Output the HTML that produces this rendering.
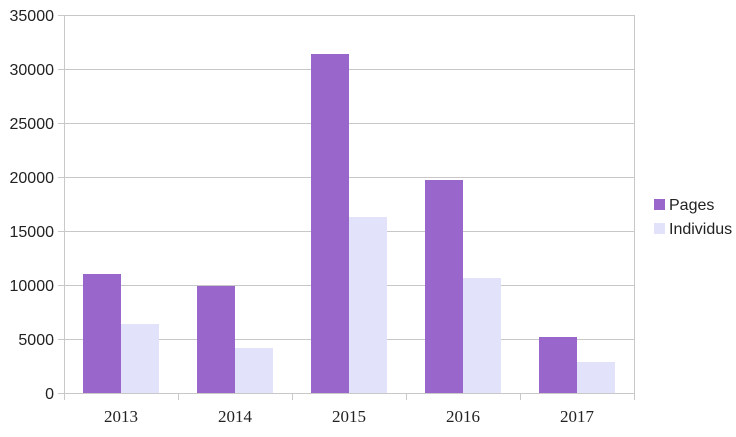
<!DOCTYPE html>
<html><head><style>body{margin:0;background:#fff}</style></head><body>
<svg width="736" height="432" xmlns="http://www.w3.org/2000/svg">
<rect width="736" height="432" fill="#fff"/>
<g stroke="#c8c8c8" stroke-width="1">
<line x1="58" y1="15.5" x2="634" y2="15.5"/>
<line x1="58" y1="69.5" x2="634" y2="69.5"/>
<line x1="58" y1="123.5" x2="634" y2="123.5"/>
<line x1="58" y1="177.5" x2="634" y2="177.5"/>
<line x1="58" y1="231.5" x2="634" y2="231.5"/>
<line x1="58" y1="285.5" x2="634" y2="285.5"/>
<line x1="58" y1="339.5" x2="634" y2="339.5"/>
<line x1="58" y1="393.5" x2="634" y2="393.5"/>
<line x1="64.5" y1="15" x2="64.5" y2="400"/>
<line x1="634.5" y1="15" x2="634.5" y2="400"/>
<line x1="178.5" y1="393" x2="178.5" y2="400"/>
<line x1="292.5" y1="393" x2="292.5" y2="400"/>
<line x1="406.5" y1="393" x2="406.5" y2="400"/>
<line x1="520.5" y1="393" x2="520.5" y2="400"/>
</g>
<g fill="#9966cc">
<rect x="83" y="274" width="38" height="119"/>
<rect x="197" y="286" width="38" height="107"/>
<rect x="311" y="54" width="38" height="339"/>
<rect x="425" y="180" width="38" height="213"/>
<rect x="539" y="337" width="38" height="56"/>
</g>
<g fill="#e2e2fa">
<rect x="121" y="324" width="38" height="69"/>
<rect x="235" y="348" width="38" height="45"/>
<rect x="349" y="217" width="38" height="176"/>
<rect x="463" y="278" width="38" height="115"/>
<rect x="577" y="362" width="38" height="31"/>
</g>
<g font-family="Liberation Sans, sans-serif" font-size="16" fill="#222" text-anchor="end">
<text x="54" y="21">35000</text>
<text x="54" y="75">30000</text>
<text x="54" y="129">25000</text>
<text x="54" y="183">20000</text>
<text x="54" y="237">15000</text>
<text x="54" y="291">10000</text>
<text x="54" y="345">5000</text>
<text x="54" y="399">0</text>
</g>
<g font-family="Liberation Serif, serif" font-size="17" fill="#222" text-anchor="middle">
<text x="121" y="422">2013</text>
<text x="235" y="422">2014</text>
<text x="349" y="422">2015</text>
<text x="463" y="422">2016</text>
<text x="577" y="422">2017</text>
</g>
<rect x="654" y="199" width="11" height="11" fill="#9966cc"/>
<rect x="654" y="223" width="11" height="11" fill="#e2e2fa"/>
<g font-family="Liberation Sans, sans-serif" font-size="16" fill="#222">
<text x="669" y="210">Pages</text>
<text x="669" y="234">Individus</text>
</g>
</svg>
</body></html>
